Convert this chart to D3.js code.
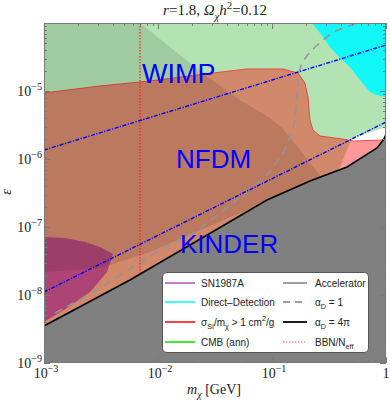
<!DOCTYPE html>
<html><head><meta charset="utf-8">
<script src="https://cdn.jsdelivr.net/npm/d3@7"></script>
<style>body{margin:0;background:#fff}svg{display:block}</style>
</head><body><svg id="c" width="390" height="401"></svg>
<script>
// ---------- data (log10 m_chi [GeV], log10 epsilon) ----------
const xDomain = [1e-3, 1];
const yDomain = [1e-9, 1e-4];
const xTickExps = [-3, -2, -1, 0];
const yTickExps = [-9, -8, -7, -6, -5];

// alpha_D = 4pi (black line); below it: grey excluded region
const alpha4pi = [[-3,-8.456],[-2.246,-7.779],[-1.719,-7.265],[-1.044,-6.603],[-0.667,-6.324],[-0.342,-6.118],[-0.079,-5.838],[-0.018,-5.706],[0,-5.632]];
// alpha_D = 1 (grey dashed)
const alpha1 = [[-2.904,-8.265],[-2.658,-8.044],[-2.465,-7.853],[-2.289,-7.662],[-2.088,-7.441],[-1.877,-7.235],[-1.675,-7.074],[-1.474,-6.824],[-1.254,-6.529],[-1.044,-6.235],[-0.912,-5.941],[-0.842,-5.676],[-0.798,-5.426],[-0.781,-5.132],[-0.772,-4.838],[-0.746,-4.618],[-0.702,-4.5],[-0.623,-4.353],[-0.465,-4.132],[-0.254,-4.0]];
// CMB (ann) region
const cmbRegion = [[-3,-4],[0,-4],[0,-5.529],[-0.026,-5.544],[-0.263,-5.676],[-0.316,-5.765],[-0.421,-6.191],[-0.421,-9],[-3,-9]];
// Direct detection region
const ddRegion = [[-0.649,-4],[-0.579,-4.147],[-0.491,-4.353],[-0.404,-4.515],[-0.316,-4.647],[-0.228,-4.838],[-0.140,-5.015],[-0.079,-5.059],[0,-5.088],[0,-4]];
// sigma_SI/m > 1 cm^2/g boundary (upper edge)
const sidmEdge = [[-3,-5.029],[-2.509,-4.926],[-2.070,-4.853],[-1.518,-4.735],[-1.219,-4.676],[-0.904,-4.676],[-0.772,-4.735],[-0.711,-4.882],[-0.684,-5.088],[-0.667,-5.426],[-0.640,-5.574],[-0.579,-5.662],[-0.377,-5.706],[-0.289,-5.735],[-0.026,-5.721],[0,-5.691]];
// accelerator (shaded) region
const accelRegion = [[-3,-4],[-2.158,-4],[-1.588,-4.765],[-1.281,-5.132],[-1.018,-5.397],[-0.912,-5.544],[-0.754,-5.868],[-0.561,-6.279],[-1.588,-7.015],[-2.070,-7.368],[-2.509,-7.603],[-3,-7.662]];
// SN1987A region
const snRegion = [[-3,-7.147],[-2.816,-7.162],[-2.640,-7.221],[-2.509,-7.294],[-2.395,-7.397],[-2.447,-7.662],[-2.596,-7.956],[-2.798,-8.191],[-3,-8.397]];
// blue dash-dot lines
const blueUpper = [[-3,-5.868],[0,-4.324]];
const blueLower = [[-3,-7.956],[0,-5.456]];
// BBN / N_eff bound (m in GeV)
const bbnMass = 0.00695;

const regionLabels = ["WIMP", "NFDM", "KINDER"];
const regionLabelPos = [[-2.14,-4.882],[-1.842,-6.132],[-1.807,-7.382]];
const regionLabelSize = [27, 26, 26];

const legendLabels = [
  [["SN1987A"]],
  [["Direct\u2013Detection"]],
  [["\u03c3"],["SI","sub"],["/m"],["\u03c7","sub"],[" > 1 cm"],["2","sup"],["/g"]],
  [["CMB (ann)"]],
  [["Accelerator"]],
  [["\u03b1"],["D","sub"],[" = 1"]],
  [["\u03b1"],["D","sub"],[" = 4\u03c0"]],
  [["BBN/N"],["eff","sub"]]
];
const legendColors = ["#b450b4","#00ffff","#ff0000","#00e000","#808080","#808080","#000000","#ff6666"];
const legendDash = [null,null,null,null,null,"7,5",null,"1.5,1.5"];
const legendWidth = [1.5,1.5,1.5,1.5,1.5,1.5,1.8,1.2];

// ---------- drawing ----------
const W = 390, H = 401;
const m = {l:44, r:4, t:23, b:38};
const svg = d3.select("#c");
const x = d3.scaleLog().domain(xDomain).range([m.l, W - m.r]);
const y = d3.scaleLog().domain(yDomain).range([H - m.b, m.t]);
const P = d => [x(Math.pow(10, d[0])), y(Math.pow(10, d[1]))];
const line = d3.line().x(d => P(d)[0]).y(d => P(d)[1]);
const poly = pts => line(pts) + "Z";

svg.append("defs").append("clipPath").attr("id","clip").append("rect")
  .attr("x", m.l).attr("y", m.t).attr("width", W-m.l-m.r).attr("height", H-m.t-m.b);
const g = svg.append("g").attr("clip-path","url(#clip)");

g.append("path").attr("d", poly(cmbRegion)).attr("fill", "#b3e3b3");
g.append("path").attr("d", poly(ddRegion)).attr("fill", "#12f8f8");
const sidmPoly = sidmEdge.concat([[0,-9],[-3,-9]]);
g.append("path").attr("d", poly(sidmPoly)).attr("fill", "rgba(255,0,0,0.4)");
g.append("path").attr("d", line(sidmEdge)).attr("fill","none").attr("stroke","rgba(235,50,50,0.8)").attr("stroke-width",1);
g.append("path").attr("d", poly(snRegion)).attr("fill", "rgba(140,0,130,0.5)");
g.append("path").attr("d", poly(accelRegion)).attr("fill", "rgba(0,0,0,0.1)");

// BBN line
g.append("line").attr("x1", x(bbnMass)).attr("x2", x(bbnMass)).attr("y1", m.t).attr("y2", H-m.b)
  .attr("stroke","#ff2020").attr("stroke-width",1.2).attr("stroke-dasharray","1.5,1.5");

// grey region below alpha=4pi
const grey = alpha4pi.concat([[0,-9],[-3,-9]]);
g.append("path").attr("d", poly(grey)).attr("fill", "#808080");

g.append("path").attr("d", line(alpha1)).attr("fill","none").attr("stroke","#959595").attr("stroke-width",1.5).attr("stroke-dasharray","8,6");
[blueUpper, blueLower].forEach(l => g.append("path").attr("d", line(l)).attr("fill","none")
  .attr("stroke","#0000ff").attr("stroke-width",1.4).attr("stroke-dasharray","4,1.5,1.2,1.5"));
g.append("path").attr("d", line(alpha4pi)).attr("fill","none").attr("stroke","#000").attr("stroke-width",1.6);

regionLabels.forEach((t,i) => {
  const p = P(regionLabelPos[i]);
  g.append("text").attr("x", p[0]).attr("y", p[1]).attr("fill","#0000ff")
    .attr("font-family","'Liberation Sans', Arial, sans-serif").attr("font-size", regionLabelSize[i]).text(t);
});

// frame and ticks
const frameColor = "#7a7a7a";
svg.append("rect").attr("x", m.l+0.5).attr("y", m.t+0.5).attr("width", W-m.l-m.r-1).attr("height", H-m.t-m.b-1)
  .attr("fill","none").attr("stroke", frameColor).attr("stroke-width",1);
const ticks = svg.append("g").attr("stroke", frameColor).attr("stroke-width",1);
function minorList(lo, hi) {
  const out = [];
  for (let e = lo; e < hi; e++) for (let k = 1; k <= 9; k++) out.push({v: k*Math.pow(10,e), major: k===1});
  out.push({v: Math.pow(10,hi), major: true});
  return out;
}
minorList(-3, 0).forEach(t => {
  const xx = Math.round(x(t.v)) + 0.5, L = t.major ? 6 : 3;
  ticks.append("line").attr("x1",xx).attr("x2",xx).attr("y1",H-m.b).attr("y2",H-m.b-L);
  ticks.append("line").attr("x1",xx).attr("x2",xx).attr("y1",m.t).attr("y2",m.t+L);
});
minorList(-9, -4).forEach(t => {
  const yy = Math.round(y(t.v)) + 0.5, L = t.major ? 6 : 3;
  ticks.append("line").attr("y1",yy).attr("y2",yy).attr("x1",m.l).attr("x2",m.l+L);
  ticks.append("line").attr("y1",yy).attr("y2",yy).attr("x1",W-m.r).attr("x2",W-m.r-L);
});

// rich text helper
function rich(sel, parts, size) {
  let shift = 0;
  parts.forEach(p => {
    const [t, k, it] = p;
    const target = k === "sub" ? size*0.3 : k === "sup" ? -size*0.42 : 0;
    const ts = sel.append("tspan").attr("dy", target - shift).attr("font-size", k ? size*0.72 : size).text(t);
    if (it) ts.attr("font-style","italic");
    shift = target;
  });
}
const serif = "'Liberation Serif','Times New Roman',serif";

xTickExps.forEach(e => {
  const t = svg.append("text").attr("x", x(Math.pow(10,e)) + (e===0?0:2)).attr("y", 378)
    .attr("text-anchor","middle").attr("font-family", serif).attr("fill","#222");
  if (e === 0) rich(t, [["1"]], 14);
  else rich(t, [["10"],["\u2212"+(-e),"sup"]], 14);
});
yTickExps.forEach(e => {
  const t = svg.append("text").attr("x", 42).attr("y", y(Math.pow(10,e)) + 5)
    .attr("text-anchor","end").attr("font-family", serif).attr("fill","#222");
  rich(t, [["10"],["\u2212"+(-e),"sup"]], 14);
});

// titles
const title = svg.append("text").attr("x", 215).attr("y", 15).attr("text-anchor","middle")
  .attr("font-family", serif).attr("fill","#222");
rich(title, [["r","",1],["=1.8, "],["\u03a9","",1],["\u03c7","sub",1],["h","",1],["2","sup"],["=0.12"]], 15);
const xl = svg.append("text").attr("x", 214).attr("y", 394).attr("text-anchor","middle")
  .attr("font-family", serif).attr("fill","#222");
rich(xl, [["m","",1],["\u03c7","sub",1],[" [GeV]"]], 14);
svg.append("text").attr("transform","translate(11,192) rotate(-90)").attr("text-anchor","middle")
  .attr("font-family", serif).attr("font-style","italic").attr("font-size",14).attr("fill","#222").text("\u03b5");

// legend
const lg = svg.append("g");
lg.append("rect").attr("x",162.5).attr("y",272.5).attr("width",206).attr("height",80).attr("rx",4)
  .attr("fill","#fff").attr("stroke","#555").attr("stroke-width",1);
const rowY = [283, 302, 322, 342];
legendLabels.forEach((lab, i) => {
  const col = Math.floor(i/4), row = i % 4;
  const x0 = col ? 283 : 165, x1 = col ? 307 : 195, tx = col ? 315 : 201;
  const yy = rowY[row];
  const ln = lg.append("line").attr("x1",x0).attr("x2",x1).attr("y1",yy).attr("y2",yy)
    .attr("stroke", legendColors[i]).attr("stroke-width", legendWidth[i]);
  if (legendDash[i]) ln.attr("stroke-dasharray", legendDash[i]);
  const t = lg.append("text").attr("x", tx).attr("y", yy + 3.5)
    .attr("font-family","'Liberation Sans', Arial, sans-serif").attr("fill","#222");
  rich(t, lab, 10);
});
</script></body></html>
